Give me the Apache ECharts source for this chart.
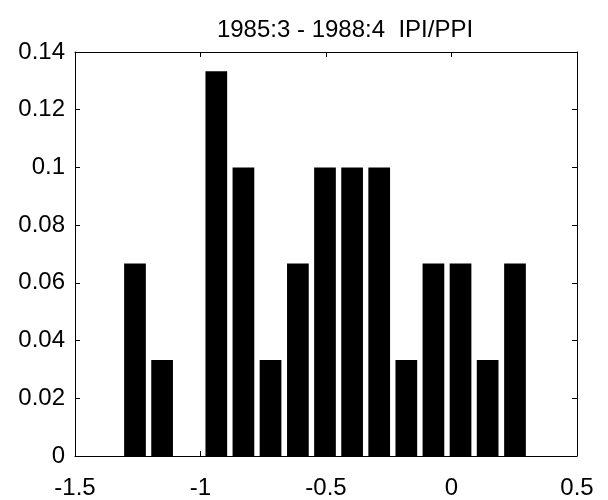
<!DOCTYPE html>
<html>
<head>
<meta charset="utf-8">
<script src="https://cdn.jsdelivr.net/npm/echarts@6/dist/echarts.min.js"></script>
<style>html,body{margin:0;padding:0;background:#fff}#c{width:608px;height:500px}</style>
</head>
<body>
<div id="c"></div>
<script>
var titleText = "1985:3 - 1988:4  IPI/PPI";
var binCenters = [-1.261, -1.153, -1.045, -0.937, -0.829, -0.721, -0.612, -0.504, -0.396, -0.288, -0.180, -0.072, 0.036, 0.144, 0.253];
var frequencies = [0.0667, 0.0333, 0, 0.1333, 0.1, 0.0333, 0.0667, 0.1, 0.1, 0.1, 0.0333, 0.0667, 0.0667, 0.0333, 0.0667];
var xTicks = [-1.5, -1, -0.5, 0, 0.5];
var yTicks = [0, 0.02, 0.04, 0.06, 0.08, 0.1, 0.12, 0.14];

var binWidth = 0.1081;
var data = binCenters.map(function (c, i) { return [c, frequencies[i]]; });

var chart = echarts.init(document.getElementById('c'), null, {renderer: 'canvas'});
var font = '"Liberation Sans", Arial, Helvetica, sans-serif';
function axisCommon() {
  return {
    axisLine: {show: true, onZero: false, lineStyle: {color: '#000', width: 1}},
    axisTick: {show: true, inside: true, length: 5, lineStyle: {color: '#000'}},
    splitLine: {show: false}
  };
}
function fmt(v) { return String(Math.round(v * 100) / 100); }
chart.setOption({
  animation: false,
  backgroundColor: '#fff',
  title: {
    text: titleText,
    left: 340, top: 13, textAlign: 'center',
    textStyle: {fontFamily: font, fontSize: 24, fontWeight: 'normal', color: '#000'}
  },
  grid: {left: 75, right: 31, top: 52, bottom: 41, containLabel: false},
  xAxis: [
    Object.assign({
      type: 'value', min: xTicks[0], max: xTicks[xTicks.length - 1], interval: 0.5, position: 'bottom',
      axisLabel: {fontFamily: font, fontSize: 24, color: '#000', margin: 20, formatter: fmt}
    }, axisCommon()),
    Object.assign({
      type: 'value', min: xTicks[0], max: xTicks[xTicks.length - 1], interval: 0.5, position: 'top',
      axisLabel: {show: false}
    }, axisCommon())
  ],
  yAxis: [
    Object.assign({
      type: 'value', min: yTicks[0], max: yTicks[yTicks.length - 1], interval: 0.02, position: 'left',
      axisLabel: {fontFamily: font, fontSize: 24, color: '#000', margin: 10, formatter: fmt}
    }, axisCommon()),
    Object.assign({
      type: 'value', min: yTicks[0], max: yTicks[yTicks.length - 1], interval: 0.02, position: 'right',
      axisLabel: {show: false}
    }, axisCommon())
  ],
  series: [{
    type: 'custom',
    xAxisIndex: 0, yAxisIndex: 0,
    data: data,
    renderItem: function (params, api) {
      var c = api.value(0), v = api.value(1);
      if (!v) return null;
      var p1 = api.coord([c - binWidth * 0.4, v]);
      var p2 = api.coord([c + binWidth * 0.4, 0]);
      return {
        type: 'rect',
        shape: {x: p1[0], y: p1[1], width: p2[0] - p1[0], height: p2[1] - p1[1]},
        style: {fill: '#000'}
      };
    }
  }]
});
</script>
</body>
</html>
